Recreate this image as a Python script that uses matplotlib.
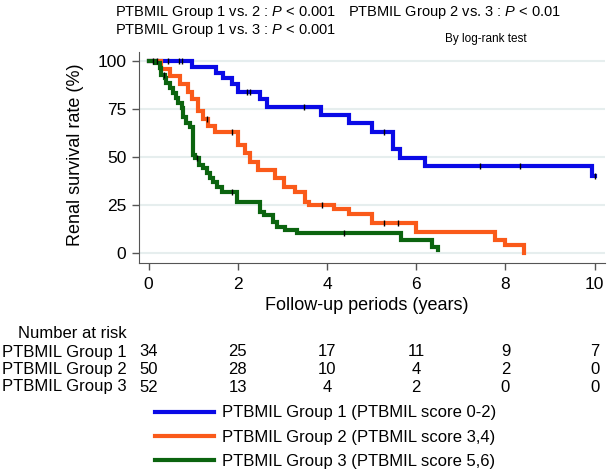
import numpy as np
import matplotlib.pyplot as plt
from matplotlib.lines import Line2D
import matplotlib.transforms as mtransforms

plt.rcParams['font.family'] = ['Liberation Sans', 'DejaVu Sans']
plt.rcParams['mathtext.fontset'] = 'custom'
plt.rcParams['mathtext.rm'] = 'Liberation Sans'
plt.rcParams['mathtext.it'] = 'Liberation Sans:italic'

# Kaplan-Meier steps (years, % renal survival)
g1_time = [0, 0.97, 1.51, 1.68, 1.87, 2.0, 2.5, 2.65, 3.87, 4.5, 5.0, 5.48, 5.64, 6.19, 9.94, 10.0]
g1_surv = [100, 97, 94, 91, 88, 84, 80, 76, 72, 67.5, 63, 54, 49.5, 45, 40, 40]
g1_cens = [0.43, 0.69, 0.76, 2.2, 2.28, 3.48, 5.28, 7.43, 8.33, 10.0]

g2_time = [0, 0.29, 0.48, 0.70, 0.89, 0.97, 1.12, 1.23, 1.34, 1.49, 2.0, 2.16, 2.28, 2.46,
           2.84, 3.03, 3.29, 3.51, 3.59, 4.15, 4.49, 5.0, 6.0, 7.77, 8.0, 8.42]
g2_surv = [100, 96, 92, 88, 84, 80, 74, 70, 66, 63, 56, 52, 47.5, 43,
           38.8, 34.5, 31.9, 26.6, 25, 22.8, 20, 15.5, 11, 6.6, 4, 0]
g2_cens = [0.1, 0.18, 1.3, 1.87, 3.89, 5.28, 5.6]

g3_time = [0, 0.14, 0.25, 0.29, 0.36, 0.40, 0.48, 0.55, 0.61, 0.66, 0.74, 0.78, 0.85, 0.93,
           0.99, 1.04, 1.14, 1.23, 1.30, 1.38, 1.45, 1.54, 1.64, 1.98, 2.5, 2.58, 2.8, 2.88,
           3.06, 3.32, 5.66, 6.36, 6.49]
g3_surv = [100, 98.8, 96.2, 92.7, 91, 88.4, 85.7, 83.1, 80.5, 77.9, 75.3, 71, 67.5, 65.8,
           50.9, 49.2, 45.7, 44, 41.4, 38.8, 37, 34.4, 31.8, 26.6, 21.4, 19.7, 16.2, 13.6,
           11.9, 10.1, 6.6, 3.2, 1.2]
g3_cens = [0.34, 1.09, 1.87, 4.39]

risk_times = [0, 2, 4, 6, 8, 10]
risk_g1 = [34, 25, 17, 11, 9, 7]
risk_g2 = [50, 28, 10, 4, 2, 0]
risk_g3 = [52, 13, 4, 2, 0, 0]

group_names = ['PTBMIL Group 1', 'PTBMIL Group 2', 'PTBMIL Group 3']
legend_labels = ['PTBMIL Group 1 (PTBMIL score 0-2)',
                 'PTBMIL Group 2 (PTBMIL score 3,4)',
                 'PTBMIL Group 3 (PTBMIL score 5,6)']
colors = ['#0a0ae6', '#fa5a1a', '#0b640f']

W, H = 609, 474


def fx(px):
    return px / W


def fy(py):
    return 1 - py / H


def step_value(times, surv, t):
    i = np.searchsorted(times, t, side='right') - 1
    return np.asarray(surv)[i]


fig = plt.figure(figsize=(W / 100, H / 100), dpi=100)
ax = fig.add_axes([fx(138.7), fy(262.7), fx(605) - fx(138.7), fy(52) - fy(262.7)])

curves = [(g1_time, g1_surv, g1_cens), (g2_time, g2_surv, g2_cens), (g3_time, g3_surv, g3_cens)]
for (t, s, c), col in zip(curves, colors):
    ax.step(t, s, where='post', color=col, lw=3.0, solid_joinstyle='miter', zorder=3)
    cy = [step_value(t, s, ci) for ci in c]
    ax.plot(c, cy, ls='none', marker='|', ms=5, mew=1, color='black', zorder=4)

ax.set_xlim(-0.22, 10.23)
ax.set_ylim(-5.2, 104.7)
ax.set_xticks(risk_times)
ax.set_yticks([0, 25, 50, 75, 100])
ax.yaxis.grid(True, color='#e6eeee', lw=1.5)
ax.set_axisbelow(True)
for side in ['top', 'right']:
    ax.spines[side].set_visible(False)
for side in ['left', 'bottom']:
    ax.spines[side].set_color('#555555')
ax.tick_params(length=5, width=1, color='#555555', labelsize=12.5)
ax.tick_params(axis='x', pad=5)
ax.tick_params(axis='y', pad=4)

fig.text(fx(75), fy(155), 'Renal survival rate (%)', rotation=90, ha='center', va='center', fontsize=13)
fig.text(fx(367), fy(305), 'Follow-up periods (years)', ha='center', va='center', fontsize=13)

# p-values
fig.text(fx(115), fy(12.5), r'PTBMIL Group 1 vs. 2 : $\mathit{P}$ < 0.001', ha='left', va='center', fontsize=10.5)
fig.text(fx(348), fy(12.5), r'PTBMIL Group 2 vs. 3 : $\mathit{P}$ < 0.01', ha='left', va='center', fontsize=10.5)
fig.text(fx(115), fy(30.5), r'PTBMIL Group 1 vs. 3 : $\mathit{P}$ < 0.001', ha='left', va='center', fontsize=10.5)
fig.text(fx(445), fy(39), 'By log-rank test', ha='left', va='center', fontsize=8.5)

# number at risk table
trans = mtransforms.blended_transform_factory(ax.transData, fig.transFigure)
fig.text(fx(18), fy(333), 'Number at risk', ha='left', va='center', fontsize=12)
row_y = [352, 369.5, 387]
for name, counts, ry in zip(group_names, [risk_g1, risk_g2, risk_g3], row_y):
    fig.text(fx(2), fy(ry), name, ha='left', va='center', fontsize=12)
    for t, n in zip(risk_times, counts):
        ax.text(t, fy(ry), str(n), transform=trans, ha='center', va='center', fontsize=12, clip_on=False)

handles = [Line2D([], [], color=c, lw=3) for c in colors]
fig.legend(handles, legend_labels, loc='upper left', bbox_to_anchor=(fx(155), fy(405.5)),
           frameon=False, fontsize=12, handlelength=3.55, handletextpad=0.5,
           labelspacing=0.55, borderpad=0, borderaxespad=0)

fig.savefig('out.png', dpi=100)
